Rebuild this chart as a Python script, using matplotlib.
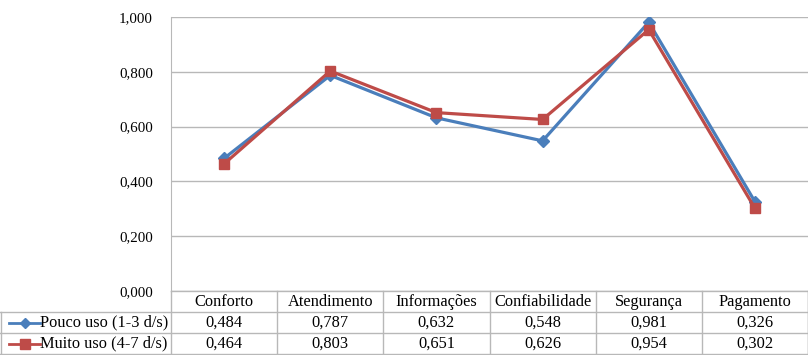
import matplotlib
matplotlib.use("Agg")
import matplotlib.pyplot as plt
from matplotlib.lines import Line2D

categories = ["Conforto", "Atendimento", "Informações", "Confiabilidade", "Segurança", "Pagamento"]
series_names = ["Pouco uso (1-3 d/s)", "Muito uso (4-7 d/s)"]
pouco_uso = [0.484, 0.787, 0.632, 0.548, 0.981, 0.326]
muito_uso = [0.464, 0.803, 0.651, 0.626, 0.954, 0.302]
y_ticks = [0.0, 0.2, 0.4, 0.6, 0.8, 1.0]

colors = ["#4a7ebb", "#be4b48"]
markers = ["D", "s"]
grid_col = "#b8b8b8"
font = "Liberation Serif"
fs = 11.8
fs_tick = 10.8

W, H = 808, 355
fig = plt.figure(figsize=(W / 100, H / 100), dpi=100)

x_left, x_right = 171, 808
y_top, y_bottom = 17, 291
ax = fig.add_axes([x_left / W, 1 - y_bottom / H, (x_right - x_left) / W, (y_bottom - y_top) / H])

n = len(categories)
xs = list(range(n))
for vals, col, mk, ms in zip([pouco_uso, muito_uso], colors, markers, [6.5, 7]):
    ax.plot(xs, vals, color=col, lw=2.3, marker=mk, ms=ms, mfc=col, mec=col, zorder=3)

ax.set_xlim(-0.5, n - 0.5)
ax.set_ylim(0, 1.0)
ax.set_yticks(y_ticks)
ax.set_yticklabels([f"{v:.3f}".replace(".", ",") for v in y_ticks], fontfamily=font, fontsize=fs_tick)
ax.tick_params(axis="y", length=0, pad=13)
ax.set_xticks([])
ax.grid(axis="y", color=grid_col, lw=1)
ax.set_axisbelow(True)
for side in ["top", "right", "bottom"]:
    ax.spines[side].set_visible(False)
ax.spines["left"].set_color(grid_col)

# data table below the plot
def fx(px):
    return px / W

def fy(py):
    return 1 - py / H

row_lines = [291, 312, 333, 354]
col_w = (x_right - x_left) / n
col_edges = [x_left + i * col_w for i in range(n + 1)]

lk = dict(color=grid_col, lw=1, transform=fig.transFigure)
fig.add_artist(Line2D([fx(x_left), fx(x_right)], [fy(291), fy(291)], **lk))
for yy in row_lines[1:]:
    fig.add_artist(Line2D([fx(0), fx(x_right)], [fy(yy), fy(yy)], **lk))
fig.add_artist(Line2D([fx(0.5), fx(0.5)], [fy(312), fy(354)], **lk))
for xe in col_edges:
    fig.add_artist(Line2D([fx(xe), fx(xe)], [fy(291), fy(354)], **lk))
fig.add_artist(Line2D([fx(x_right - 0.5), fx(x_right - 0.5)], [fy(291), fy(354)], **lk))

for i, cat in enumerate(categories):
    cx = (col_edges[i] + col_edges[i + 1]) / 2
    fig.text(fx(cx), fy(301.5), cat, ha="center", va="center", fontfamily=font, fontsize=fs)

for r, (name, vals, col, mk) in enumerate(zip(series_names, [pouco_uso, muito_uso], colors, markers)):
    yc = (row_lines[r + 1] + row_lines[r + 2]) / 2
    fig.add_artist(Line2D([fx(9), fx(40)], [fy(yc), fy(yc)], color=col, lw=2.0,
                          transform=fig.transFigure))
    fig.add_artist(Line2D([fx(25)], [fy(yc)], color=col, marker=mk, ms=5.5 if mk == "D" else 7,
                          transform=fig.transFigure))
    fig.text(fx(40.5), fy(yc), name, ha="left", va="center", fontfamily=font, fontsize=fs)
    for i, v in enumerate(vals):
        cx = (col_edges[i] + col_edges[i + 1]) / 2
        fig.text(fx(cx), fy(yc), f"{v:.3f}".replace(".", ","), ha="center", va="center",
                 fontfamily=font, fontsize=fs)

fig.savefig("out.png", dpi=100)
